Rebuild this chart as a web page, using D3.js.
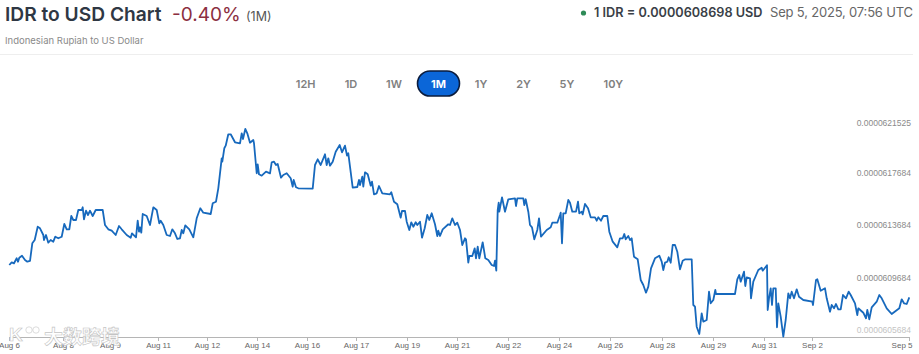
<!doctype html>
<html lang="en">
<head>
  <meta charset="UTF-8">
  <script src="https://cdn.jsdelivr.net/npm/d3@7"></script>
  <title>IDR to USD Chart</title>
  <style>
    html, body{ margin:0; padding:0; background:#fff; overflow:hidden;}
    svg{ display:block; font-family:Inter, "Noto Sans", sans-serif;}
    .xaxis text{ font-family:"Liberation Sans", Arial, sans-serif; font-size:8px; fill:#666;}
    .yaxis text{ font-family:"Liberation Sans", Arial, sans-serif; font-size:8.5px; fill:#8a8a8a;}
  </style>
</head>
<body>
  <div class="chart"></div>
  <script>
    // position along the time axis (0 = first sample, 900 = last)
    const steps = [
      0.3,2.7,5,7.7,9,10.3,13,16,18.3,21,23.3,25.7,28.7,31,34.3,35,37,39.3,41.7,44.3,46.3,49.3,52.7,55.3,57.7,60.3,62.3,64.3,67,69.3,
      72.7,73.7,75,77,79,81,83.7,86.7,93.7,96,99.3,102.7,106.7,110,112.7,117.7,121.7,123,127,128.7,130,131,132.3,133.7,137.7,141,144.3,147.7,150.3,151.7,
      154.3,157.7,161,163.3,166,168.3,171,172.7,174.3,176.3,180.3,184.3,187.7,191.3,194.3,201.7,203.7,207,209.3,212.7,213.3,215.3,216.7,219.3,221.7,226,231,232.7,234,236.3,238.3,
      241,244.3,245,247.7,248.7,250,252.7,257,261,262.7,265,267,268.7,272,274.3,277.7,281.7,283.7,284.7,287,289.3,303.7,306,308.7,311.7,316,317.7,319.3,321,323.7,
      326.7,330.7,333,336,338,339.3,343.7,348.3,350,351,353.3,354.3,356,358.7,361.7,363,365,367.7,370,373.3,381,382.3,385,388.3,391.7,393,396,397.7,400.3,402.3,
      404.3,406.7,408.3,411,413,415.7,418.3,420.3,422.7,426,428.3,429.3,431,433.7,439.3,441,443.3,446,448.3,451,453.3,456,457,459.3,460.3,463.3,465.7,467,468.7,470.3,
      473.7,476.3,479.3,482.7,485,486,487.3,488.7,489.7,490.3,493,496,499.3,506,507,508.3,514.3,515.3,516.7,519.3,521,523,525.3,528.3,530,532,537.7,541.7,543.3,548.3,
      551,551.7,553,554.3,556.7,559.3,561,563.3,567,569,570.3,572.7,573.7,576,579,581.7,586,587.7,589.3,592,594.3,598.3,600.3,603.7,608.3,611,613.7,615.3,616.7,619.3,
      621,622.7,625,628.7,631.7,634.3,637,639.3,642,646,650.3,652.7,654.3,656,658.3,659.7,661.7,663.7,666,668.3,671,673.7,676.3,682.7,684.3,686,687.7,690.3,692.7,694.3,
      697.7,700,701.7,704.3,706.3,707,726,728.3,730.3,731.7,735,736.3,737.7,741,742,744.3,749.3,752.7,753.7,758,758.7,760,761.7,763,764.3,766.7,768,769.3,771.7,774.3,
      776.7,779.3,781,782.7,785,787.7,790,794.3,803.3,804,807,808.3,811.7,816,817.7,821,822.7,825,827,829.3,831.7,834,837,839.7,841.7,846,848.3,849.3,854.3,857,
      858.3,860.3,862.7,867.7,870.3,872.7,877.7,882.7,887,890.3,892.7,895,897.7,900.3
    ];
    // IDR/USD rate in units of 1e-10 USD, same order as steps
    const rates = [
      610642,610847,610771,611153,610893,611198,611351,611023,610893,610947,612297,612548,613563,613441,612930,612548,612930,612342,612548,612419,612800,612678,612800,613769,613364,613364,614379,614074,614074,614836,
      614836,615042,614127,614783,614455,614783,614379,614836,614836,613692,613364,613258,612930,613616,613364,612930,612724,613059,612754,614020,613181,613517,613105,614531,614379,613692,615042,614836,613822,614020,
      613692,612930,612853,613364,613059,612625,612678,613311,613059,613669,613364,612754,614203,614966,614631,614531,615347,615469,616492,618780,618520,619542,619741,620610,620610,620000,619924,620686,620252,621014,
      620686,619969,620175,619924,617636,618322,617559,617452,617758,617636,618474,618520,618269,618345,617300,617506,617636,617254,616614,617125,616568,616492,616461,618269,618703,618269,619085,618269,618780,618215,
      618520,619283,619794,619237,619741,618978,619161,616537,616591,617125,616743,617376,616614,617712,617559,616690,616995,616034,616110,616667,616110,616034,616186,615469,615271,614249,614760,614760,613944,613311,
      613898,613563,613898,613692,613944,612724,613441,614455,614074,614585,613746,612853,613258,612853,613364,613746,613692,614203,613692,613868,613311,612167,612678,612600,610817,611328,611328,611915,611153,612037,
      611153,612373,611153,611023,610642,610565,610970,610207,614836,615393,614707,615805,614707,615653,615729,615141,615729,615729,615218,615653,614707,613692,613517,612602,613311,614203,612800,613311,613517,613868,
      613868,614455,614631,612297,614585,614585,615599,615393,614707,614707,615469,614585,614707,614508,615294,614966,614280,614280,614020,614280,614020,614379,614379,613181,612419,611991,612678,612678,613006,612602,
      612853,612548,612678,611275,611076,609498,609116,608529,608987,610390,611153,611351,610893,610260,610817,610893,611229,610817,612167,612167,611656,610314,610970,611076,611076,607591,607461,605936,605379,606958,
      606317,606447,608605,607720,607972,608735,608430,608430,609551,609879,609368,610131,609040,609703,609627,608102,609368,610260,610436,610207,610619,607209,608102,608864,607591,608864,608864,605890,607720,606698,
      605173,606447,608483,608102,608605,608102,608788,608224,607972,607842,607591,609498,609551,608681,608864,608102,607080,607591,607339,607667,607263,607263,608353,608102,608605,608353,607720,606828,607339,607003,
      606576,607209,606500,607415,607842,608353,608102,607339,606904,607156,607339,608025,607720,607667,608178
    ];

    const xTickLabels = ['Aug 6','Aug 8','Aug 9','Aug 11','Aug 12','Aug 14','Aug 16','Aug 17','Aug 19','Aug 21','Aug 22','Aug 24','Aug 26','Aug 28','Aug 29','Aug 31','Sep 2','Sep 5'];
    const xTickSteps = [0,54,101,149,198,248,298,347,398,448,499,550,601,653,704,755,803,900];
    const yTickRates = [605684,609684,613684,617684,621525];
    const ranges = ['12H','1D','1W','1M','1Y','2Y','5Y','10Y'];
    const activeRange = '1M';

    const bxSize = {w:919, h:354};
    const svg = d3.select('.chart').append('svg').attr('width', bxSize.w).attr('height', bxSize.h);

    const xScale = d3.scaleLinear().domain([0, 900]).range([9, 909]);
    const yScale = d3.scaleLinear().domain([605684, 621525]).range([330, 122.3]);

    // header
    svg.append('text').attr('x', 5).attr('y', 20.5).text('IDR to USD Chart')
      .attr('font-size', 19.2).attr('font-weight', 600).attr('fill', '#2f3744');
    svg.append('text').attr('x', 172).attr('y', 20.5).text('-0.40%').attr('font-size', 19).attr('fill', '#8c2f3f');
    svg.append('text').attr('x', 246).attr('y', 20.5).text('(1M)').attr('font-size', 12.5).attr('fill', '#555');
    svg.append('text').attr('x', 5).attr('y', 43.5).text('Indonesian Rupiah to US Dollar').attr('font-size', 9.5).attr('fill', '#8a8a8a');

    svg.append('circle').attr('cx', 583.5).attr('cy', 13).attr('r', 2.6).attr('fill', '#2e8b57');
    svg.append('text').attr('x', 594).attr('y', 17).text('1 IDR = 0.0000608698 USD').attr('font-size', 12.7).attr('font-weight', 600).attr('fill', '#3a3f47');
    svg.append('text').attr('x', 770).attr('y', 17).text('Sep 5, 2025, 07:56 UTC').attr('font-size', 13)
      .attr('textLength', 143).attr('lengthAdjust', 'spacing').attr('fill', '#666');
    svg.append('line').attr('x1', 0).attr('x2', 913).attr('y1', 54.5).attr('y2', 54.5).attr('stroke', '#eeeeee');

    // range buttons
    const rangeCenters = [305.7, 351, 394, 438.5, 481, 523.5, 567, 613.3];
    svg.append('rect').attr('x', rangeCenters[ranges.indexOf(activeRange)] - 21).attr('y', 71).attr('width', 42).attr('height', 25).attr('rx', 12.5)
      .attr('fill', '#0b66d8').attr('stroke', '#0b1c3d').attr('stroke-width', 1.6);
    svg.append('g').selectAll('text').data(ranges).enter().append('text')
      .attr('x', (d, i) => rangeCenters[i]).attr('y', 87.5).attr('text-anchor', 'middle')
      .attr('font-size', 11).attr('font-weight', d => d === activeRange ? 700 : 600)
      .attr('fill', d => d === activeRange ? '#fff' : '#808080').text(d => d);

    // axes
    const xAxis = d3.axisBottom(xScale).tickValues(xTickSteps).tickSize(4).tickPadding(1)
      .tickFormat((d, i) => xTickLabels[i]);
    const xAxisEle = svg.append('g').attr('class', 'xaxis').attr('transform', 'translate(0, 337)').call(xAxis);
    xAxisEle.selectAll('line, path').attr('stroke', '#b5b5b5');
    xAxisEle.select('.tick:last-of-type text').attr('text-anchor', 'end').attr('dx', 3);

    const yAxis = d3.axisLeft(yScale).tickValues(yTickRates).tickSize(0).tickPadding(0)
      .tickFormat(d => (d * 1e-10).toFixed(10));
    const yAxisEle = svg.append('g').attr('class', 'yaxis').attr('transform', 'translate(911, 0)').call(yAxis);
    yAxisEle.select('.domain').remove();
    yAxisEle.selectAll('.tick').filter(d => d === 605684).select('text').style('fill', '#c4c4c4');

    // rate line
    const line = d3.line().x(d => xScale(d)).y((d, i) => yScale(rates[i]));
    svg.append('path').datum(steps).attr('d', line).attr('fill', 'none')
      .attr('stroke', '#1769bd').attr('stroke-width', 1.8).attr('stroke-linejoin', 'round');

    // watermark sitting on top of the chart
    const mark = svg.append('g').attr('fill', '#fff').attr('stroke', '#c4c4c4').attr('stroke-width', 0.6);
    mark.append('text').attr('x', 44).attr('y', 344).text('大数跨境')
      .attr('font-family', '"Noto Sans CJK SC"').attr('font-size', 19).attr('font-weight', 700);
    mark.append('text').attr('x', 9).attr('y', 341).text('K')
      .attr('font-family', '"Liberation Sans"').attr('font-size', 19).attr('font-weight', 700);
    mark.append('circle').attr('cx', 29).attr('cy', 330).attr('r', 3.2);
    mark.append('circle').attr('cx', 36).attr('cy', 330).attr('r', 3.2);
  </script>
</body>
</html>
